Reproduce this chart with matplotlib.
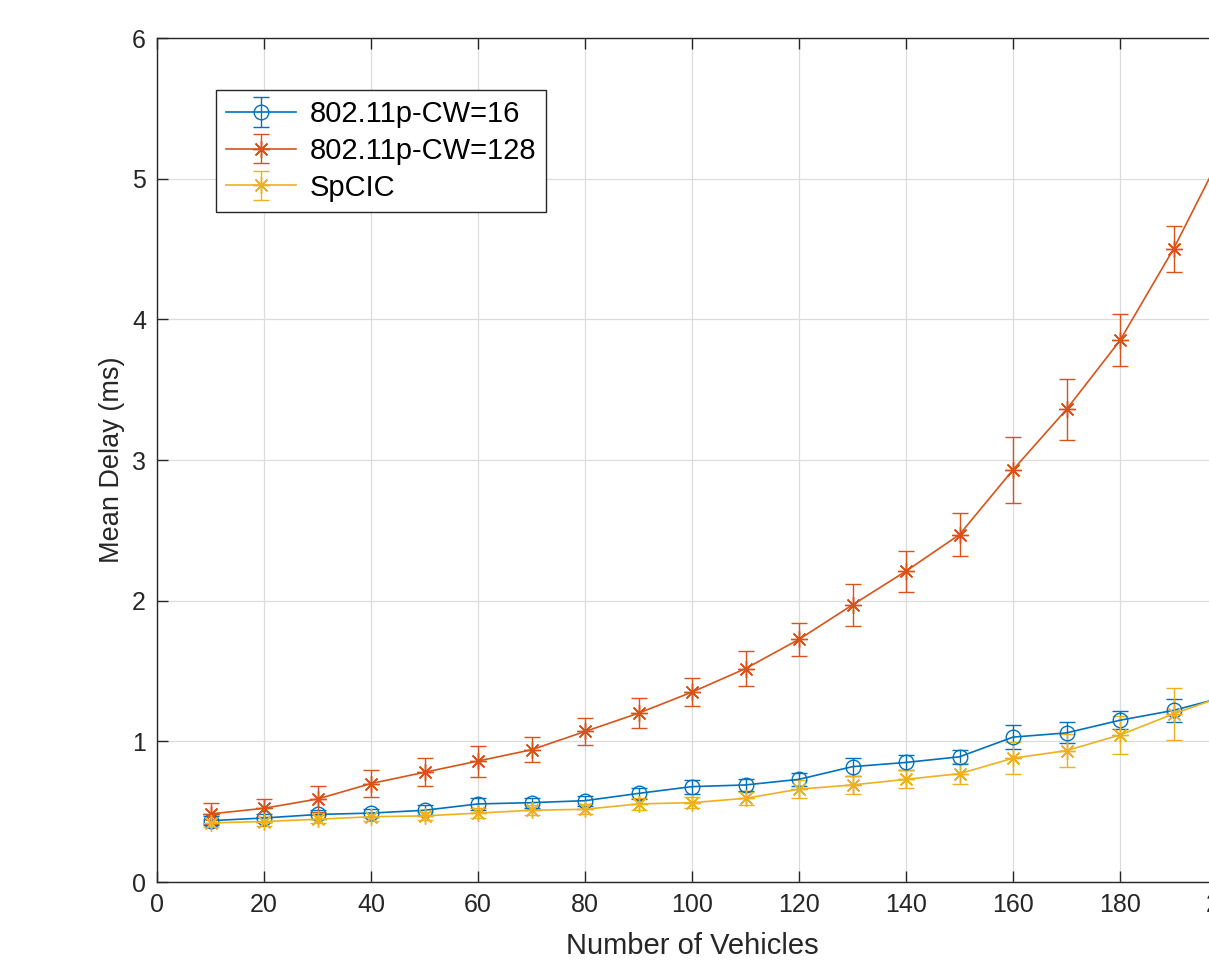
import numpy as np
import matplotlib
matplotlib.use("Agg")
import matplotlib.pyplot as plt

# === Data ===
vehicles = [10, 20, 30, 40, 50, 60, 70, 80, 90, 100,
            110, 120, 130, 140, 150, 160, 170, 180, 190, 200]

cw16_mean = [0.436, 0.455, 0.48, 0.49, 0.51, 0.555, 0.564, 0.578, 0.63, 0.678,
             0.69, 0.73, 0.82, 0.85, 0.89, 1.03, 1.06, 1.15, 1.22, 1.32]
cw16_err = [0.03, 0.03, 0.03, 0.03, 0.035, 0.04, 0.035, 0.035, 0.04, 0.05,
            0.045, 0.045, 0.065, 0.055, 0.05, 0.085, 0.075, 0.065, 0.08, 0.08]

cw128_mean = [0.484, 0.524, 0.59, 0.70, 0.78, 0.86, 0.94, 1.07, 1.20, 1.35,
              1.517, 1.725, 1.97, 2.21, 2.47, 2.93, 3.36, 3.85, 4.50, 5.25]
cw128_err = [0.075, 0.065, 0.09, 0.095, 0.10, 0.11, 0.09, 0.095, 0.105, 0.10,
             0.125, 0.115, 0.15, 0.145, 0.155, 0.235, 0.215, 0.185, 0.16, 0.17]

spcic_mean = [0.42, 0.43, 0.446, 0.464, 0.47, 0.49, 0.51, 0.517, 0.555, 0.564,
              0.595, 0.66, 0.69, 0.73, 0.77, 0.88, 0.934, 1.045, 1.195, 1.33]
spcic_err = [0.03, 0.03, 0.03, 0.03, 0.03, 0.035, 0.035, 0.035, 0.04, 0.04,
             0.045, 0.065, 0.065, 0.065, 0.075, 0.115, 0.115, 0.135, 0.185, 0.1]

labels = ["802.11p-CW=16", "802.11p-CW=128", "SpCIC"]
colors = ["#0072BD", "#D95319", "#EDB120"]

plt.rcParams['font.family'] = ['Liberation Sans', 'DejaVu Sans']

fig = plt.figure(figsize=(12.09, 9.75), dpi=100)
# axes runs past the right edge of the picture, like the reference crop
ax = fig.add_axes([157 / 1209, (975 - 882) / 975, 1070 / 1209, 844 / 975])

ax.errorbar(vehicles, cw16_mean, yerr=cw16_err, color=colors[0], marker='o',
            markersize=10.5, markerfacecolor='none', markeredgewidth=1.0,
            linewidth=1.2, elinewidth=1.0, capsize=5.5, label=labels[0])
ax.errorbar(vehicles, cw128_mean, yerr=cw128_err, color=colors[1], marker=(8, 2, 0),
            markersize=12, markeredgewidth=1.0,
            linewidth=1.2, elinewidth=1.0, capsize=5.5, label=labels[1])
ax.errorbar(vehicles, spcic_mean, yerr=spcic_err, color=colors[2], marker=(8, 2, 0),
            markersize=12, markeredgewidth=1.0,
            linewidth=1.2, elinewidth=1.0, capsize=5.5, label=labels[2])

ax.set_xlim(0, 200)
ax.set_ylim(0, 6)
ax.set_xticks(np.arange(0, 201, 20))
ax.set_yticks(np.arange(0, 7, 1))

ax.grid(True, color='#dcdcdc', linewidth=0.9)
ax.set_axisbelow(True)

for s in ax.spines.values():
    s.set_color('#262626')
    s.set_linewidth(1.0)
ax.tick_params(direction='in', length=8, width=1.0, top=True, right=True,
               colors='#262626', labelsize=18, pad=8)

ax.set_xlabel("Number of Vehicles", fontsize=21, color='#262626', labelpad=11)
ax.set_ylabel("Mean Delay (ms)", fontsize=19.5, color='#262626', labelpad=5)

leg = ax.legend(loc='upper left', bbox_to_anchor=(216 / 1209, 1 - 90 / 975),
                bbox_transform=fig.transFigure, borderaxespad=0, fontsize=21,
                fancybox=False, framealpha=1, edgecolor='#262626',
                handlelength=2.4, labelspacing=0.3, borderpad=0.35,
                handletextpad=0.45)
leg.get_frame().set_linewidth(1.0)

fig.savefig("out.png", dpi=100)
